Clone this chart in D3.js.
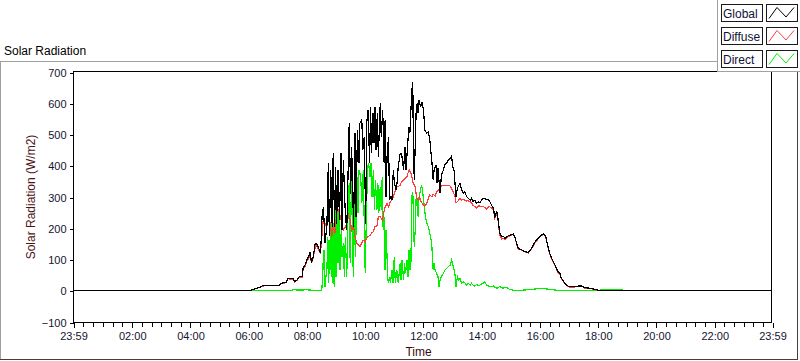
<!DOCTYPE html>
<html>
<head>
<meta charset="utf-8">
<script src="https://cdn.jsdelivr.net/npm/d3@7"></script>
<style>
  body { margin: 0; background: #fff; }
  svg { display: block; font-family: "Liberation Sans", Arial, sans-serif; }
  .tick text { fill: #14142e; font-size: 11px; }
</style>
</head>
<body>
<div id="chart"></div>
<script>
// time is minutes after midnight, the chart runs 23:59 -> 23:59
var seriesNames = ["Global", "Diffuse", "Direct"];
var seriesColors = ["#000000", "#ff3c3c", "#00f000"];

var yTicks = [-100, 0, 100, 200, 300, 400, 500, 600, 700];
var xTickMinutes = [-1, 120, 240, 360, 480, 600, 720, 840, 960, 1080, 1200, 1320, 1439];
var xTickLabels = ["23:59", "02:00", "04:00", "06:00", "08:00", "10:00", "12:00",
                   "14:00", "16:00", "18:00", "20:00", "22:00", "23:59"];

var globalMin = [-1, 360, 368, 374, 385, 389, 395, 424, 428, 438,
  442, 453, 455, 461, 465, 471, 473, 477, 481, 483,
  488, 490, 492, 494, 498, 500, 504, 508, 510, 512,
  515, 518, 522, 525, 527, 530, 533, 535, 538, 540,
  542, 545, 548, 551, 553, 556, 560, 563, 566, 568,
  571, 573, 577, 580, 582, 585, 588, 590, 594, 596,
  599, 602, 604, 607, 610, 612, 614, 617, 619, 621,
  623, 626, 628, 632, 634, 637, 640, 642, 644, 646,
  649, 651, 654, 656, 659, 661, 665, 667, 669, 673,
  676, 680, 683, 685, 689, 691, 693, 697, 699, 700,
  702, 706, 708, 710, 712, 715, 718, 721, 724, 728,
  731, 734, 738, 741, 743, 747, 749, 751, 755, 758,
  762, 765, 769, 772, 776, 779, 781, 784, 788, 791,
  796, 800, 803, 806, 810, 813, 817, 820, 823, 827,
  830, 834, 837, 844, 851, 856, 861, 865, 868, 872,
  875, 878, 882, 885, 889, 892, 899, 906, 909, 913,
  916, 923, 930, 937, 944, 950, 957, 964, 969, 973,
  976, 980, 985, 992, 998, 1002, 1005, 1008, 1012, 1014,
  1019, 1022, 1033, 1039, 1047, 1053, 1064, 1074, 1084, 1439];
var globalW = [0, 0, 3, 6, 12, 16, 17, 17, 24, 27,
  40, 38, 29, 35, 45, 46, 72, 82, 100, 105,
  125, 92, 96, 110, 152, 152, 140, 125, 152, 237,
  269, 152, 205, 408, 174, 386, 205, 440, 205, 397,
  215, 386, 226, 440, 194, 419, 247, 194, 400, 536,
  311, 461, 205, 504, 237, 514, 408, 536, 546, 450,
  493, 215, 536, 578, 408, 589, 440, 568, 472, 589,
  450, 568, 429, 600, 493, 578, 408, 546, 300, 429,
  493, 290, 301, 290, 386, 344, 322, 354, 397, 440,
  440, 386, 461, 386, 482, 525, 504, 642, 669, 493,
  354, 578, 600, 568, 610, 589, 605, 578, 514, 504,
  509, 482, 419, 354, 386, 403, 344, 392, 312, 370,
  386, 403, 408, 419, 424, 431, 397, 386, 301, 328,
  344, 322, 312, 317, 301, 296, 290, 296, 285, 290,
  280, 285, 282, 296, 293, 290, 275, 264, 237, 253,
  226, 184, 173, 175, 168, 173, 178, 182, 173, 152,
  136, 131, 125, 122, 136, 154, 168, 178, 182, 173,
  152, 125, 104, 82, 61, 56, 40, 35, 24, 20,
  15, 13, 13, 15, 15, 10, 8, 5, 0, 0];

var diffuseMin = [-1, 360, 368, 374, 385, 389, 395, 424, 428, 438,
  442, 453, 455, 461, 465, 471, 473, 477, 481, 483,
  488, 490, 492, 494, 498, 500, 504, 508, 510, 515,
  518, 522, 525, 529, 532, 535, 539, 542, 546, 550,
  553, 556, 560, 563, 566, 570, 573, 577, 580, 584,
  587, 590, 594, 597, 601, 604, 607, 611, 614, 618,
  621, 625, 628, 632, 636, 639, 642, 646, 649, 653,
  656, 659, 662, 666, 669, 673, 676, 680, 683, 687,
  690, 692, 695, 697, 700, 704, 707, 710, 713, 716,
  721, 724, 728, 731, 734, 738, 741, 745, 748, 751,
  755, 758, 762, 765, 769, 772, 776, 779, 782, 786,
  788, 791, 796, 800, 803, 806, 810, 813, 817, 820,
  823, 827, 830, 834, 837, 844, 851, 856, 861, 865,
  868, 872, 875, 878, 882, 885, 889, 892, 899, 906,
  909, 913, 916, 923, 930, 937, 944, 950, 957, 964,
  969, 973, 976, 980, 985, 992, 998, 1002, 1005, 1008,
  1012, 1014, 1019, 1022, 1033, 1039, 1047, 1053, 1064, 1074,
  1084, 1439];
var diffuseW = [0, 0, 3, 6, 12, 15, 16, 16, 23, 26,
  38, 37, 28, 34, 43, 44, 68, 78, 95, 100,
  110, 90, 94, 105, 140, 145, 135, 120, 140, 237,
  215, 205, 237, 215, 173, 205, 184, 248, 258, 237,
  215, 194, 205, 215, 248, 226, 194, 205, 173, 152,
  146, 141, 152, 162, 157, 168, 173, 178, 184, 189,
  205, 205, 237, 237, 226, 248, 269, 279, 269, 285,
  290, 301, 317, 333, 333, 338, 349, 354, 360, 365,
  381, 386, 376, 365, 344, 333, 296, 290, 301, 285,
  274, 271, 280, 296, 306, 301, 309, 303, 317, 320,
  328, 335, 338, 338, 338, 338, 335, 328, 317, 301,
  282, 285, 296, 290, 292, 290, 287, 288, 285, 282,
  274, 269, 264, 271, 271, 270, 262, 270, 265, 258,
  232, 245, 220, 180, 166, 168, 162, 170, 176, 180,
  172, 150, 134, 130, 124, 121, 135, 152, 166, 176,
  180, 171, 150, 123, 102, 80, 59, 54, 38, 33,
  23, 19, 14, 12, 12, 14, 14, 9, 7, 4,
  0, 0];

var directMin = [-1, 368, 372, 450, 455, 460, 480, 490, 510, 512,
  514, 515, 516, 518, 520, 522, 524, 526, 527, 529,
  531, 533, 535, 537, 539, 541, 543, 545, 547, 549,
  552, 553, 556, 558, 560, 563, 566, 568, 570, 573,
  575, 577, 579, 581, 584, 586, 588, 590, 592, 594,
  597, 599, 601, 604, 606, 608, 611, 613, 615, 618,
  620, 622, 625, 627, 629, 632, 634, 636, 638, 640,
  642, 644, 646, 647, 649, 651, 653, 656, 658, 659,
  661, 663, 666, 669, 673, 675, 677, 680, 682, 684,
  687, 689, 691, 692, 693, 695, 697, 699, 700, 702,
  704, 706, 708, 710, 712, 715, 717, 719, 722, 725,
  728, 731, 734, 738, 740, 741, 743, 745, 748, 751,
  753, 756, 758, 762, 765, 769, 772, 776, 779, 781,
  784, 786, 788, 791, 794, 796, 800, 803, 806, 810,
  813, 817, 820, 823, 827, 830, 834, 837, 844, 847,
  851, 858, 865, 872, 878, 885, 892, 899, 906, 920,
  967, 981, 995, 1084, 1085, 1131, 1133, 1439];
var directW = [0, 0, 2, 2, 4, 2, 3, 2, 2, 10,
  88, 66, 130, 13, 45, 66, 173, 24, 162, 66,
  226, 24, 216, 13, 258, 45, 248, 88, 258, 66,
  216, 109, 152, 45, 173, 45, 280, 344, 88, 386,
  109, 45, 333, 109, 365, 248, 386, 376, 354, 280,
  386, 216, 56, 280, 397, 408, 365, 408, 301, 386,
  258, 354, 258, 344, 248, 333, 258, 365, 194, 237,
  66, 194, 109, 45, 24, 45, 24, 66, 24, 56,
  109, 24, 66, 24, 88, 34, 98, 34, 88, 56,
  98, 45, 130, 109, 66, 77, 301, 317, 258, 141,
  194, 301, 290, 237, 301, 322, 338, 322, 280, 237,
  216, 205, 184, 152, 88, 66, 88, 66, 56, 45,
  13, 40, 45, 56, 66, 72, 77, 82, 98, 88,
  66, 50, 13, 45, 34, 40, 24, 29, 26, 18,
  24, 18, 24, 18, 15, 20, 17, 18, 24, 29,
  18, 13, 15, 8, 13, 8, 11, 4, 2, 1,
  8, 4, 2, 2, 3, 3, 0, 0];

var W = 800, H = 361;
var plot = {left: 73, right: 772, top: 72, bottom: 322};

var svg = d3.select("#chart").append("svg")
  .attr("width", W)
  .attr("height", H);

// outer panel frame
svg.append("line").attr("x1", 0).attr("y1", 61.5).attr("x2", 718).attr("y2", 61.5).attr("stroke", "#a0a0a0");
svg.append("line").attr("x1", 0.5).attr("y1", 61).attr("x2", 0.5).attr("y2", 360).attr("stroke", "#a0a0a0");
svg.append("line").attr("x1", 0).attr("y1", 359.5).attr("x2", 798).attr("y2", 359.5).attr("stroke", "#404040");
svg.append("line").attr("x1", 797.5).attr("y1", 70).attr("x2", 797.5).attr("y2", 360).attr("stroke", "#404040");

svg.append("text")
  .attr("x", 4).attr("y", 55)
  .attr("font-size", 12)
  .attr("fill", "#000")
  .text("Solar Radiation");

var x = d3.scaleLinear().domain([-1, 1439]).range([plot.left, plot.right]);
var y = d3.scaleLinear().domain([-100, 700]).range([plot.bottom, plot.top]);

// y axis
var yAxis = svg.append("g")
  .attr("transform", "translate(" + (plot.left + 0.5) + ",0.5)")
  .call(d3.axisLeft(y).tickValues(yTicks).tickSize(4).tickPadding(3));
yAxis.select(".domain").remove();
yAxis.selectAll(".tick line").attr("stroke", "#000").attr("shape-rendering", "crispEdges");

// x axis, major and minor ticks
var minorTicks = [];
for (var i = 0; i < xTickMinutes.length - 1; i++) {
  var a = xTickMinutes[i], b = xTickMinutes[i + 1];
  for (var k = 1; k < 6; k++) minorTicks.push(a + (b - a) * k / 6);
}
var xMinor = svg.append("g")
  .attr("transform", "translate(0.5," + (plot.bottom + 0.5) + ")")
  .call(d3.axisBottom(x).tickValues(minorTicks).tickSize(4).tickFormat(""));
xMinor.select(".domain").remove();
xMinor.selectAll(".tick line").attr("stroke", "#000").attr("shape-rendering", "crispEdges");

var xAxis = svg.append("g")
  .attr("transform", "translate(0.5," + (plot.bottom + 0.5) + ")")
  .call(d3.axisBottom(x).tickValues(xTickMinutes).tickSize(5).tickPadding(5)
    .tickFormat(function (d, i) { return xTickLabels[i]; }));
xAxis.select(".domain").remove();
xAxis.selectAll(".tick line").attr("stroke", "#000").attr("shape-rendering", "crispEdges");

// axis names
svg.append("text")
  .attr("transform", "translate(35," + ((plot.top + plot.bottom) / 2) + ") rotate(-90)")
  .attr("text-anchor", "middle")
  .attr("font-size", 12)
  .attr("fill", "#4a1212")
  .text("Solar Radiation (W/m2)");

svg.append("text")
  .attr("x", (plot.left + plot.right) / 2 - 4)
  .attr("y", 356)
  .attr("text-anchor", "middle")
  .attr("font-size", 12)
  .attr("fill", "#3a0c0c")
  .text("Time");

// plot area
svg.append("clipPath").attr("id", "clip")
  .append("rect")
  .attr("x", plot.left).attr("y", plot.top)
  .attr("width", plot.right - plot.left).attr("height", plot.bottom - plot.top);

svg.append("rect")
  .attr("x", plot.left + 0.5).attr("y", plot.top - 0.5)
  .attr("width", plot.right - plot.left - 1).attr("height", plot.bottom - plot.top + 1)
  .attr("fill", "#fff");

var line = d3.line()
  .x(function (d) { return x(d[0]); })
  .y(function (d) { return y(d[1]); });

var series = [
  d3.zip(globalMin, globalW),
  d3.zip(diffuseMin, diffuseW),
  d3.zip(directMin, directW)
];

var g = svg.append("g").attr("clip-path", "url(#clip)");
// direct first, global last so it sits on top
[2, 1, 0].forEach(function (s) {
  g.append("path")
    .datum(series[s])
    .attr("d", line)
    .attr("fill", "none")
    .attr("stroke", seriesColors[s])
    .attr("stroke-width", 1.2)
    .attr("shape-rendering", "crispEdges");
});

svg.append("rect")
  .attr("x", plot.left + 0.5).attr("y", plot.top - 0.5)
  .attr("width", plot.right - plot.left - 1).attr("height", plot.bottom - plot.top + 1)
  .attr("fill", "none")
  .attr("stroke", "#000")
  .attr("shape-rendering", "crispEdges");

// legend
var legend = svg.append("g");
legend.append("rect")
  .attr("x", 717.5).attr("y", -1)
  .attr("width", 90).attr("height", 72.5)
  .attr("fill", "#fff")
  .attr("stroke", "#a0a0a0");

seriesNames.forEach(function (name, i) {
  var top = 4.5 + i * 23;
  legend.append("rect")
    .attr("x", 721.5).attr("y", top)
    .attr("width", 41).attr("height", 17)
    .attr("fill", "#fff").attr("stroke", "#1a1a1a");
  legend.append("text")
    .attr("x", 723).attr("y", top + 13)
    .attr("font-size", 12)
    .attr("fill", "#10103a")
    .text(name);
  legend.append("rect")
    .attr("x", 766.5).attr("y", top)
    .attr("width", 31).attr("height", 17)
    .attr("fill", "#fff").attr("stroke", "#1a1a1a");
  var sx = 766, pts = [[sx + 3, top + 14], [sx + 11, top + 3], [sx + 20, top + 12.5], [sx + 28, top + 3]];
  legend.append("path")
    .attr("d", d3.line()(pts))
    .attr("fill", "none")
    .attr("stroke", seriesColors[i])
    .attr("stroke-width", 1);
});
</script>
</body>
</html>
